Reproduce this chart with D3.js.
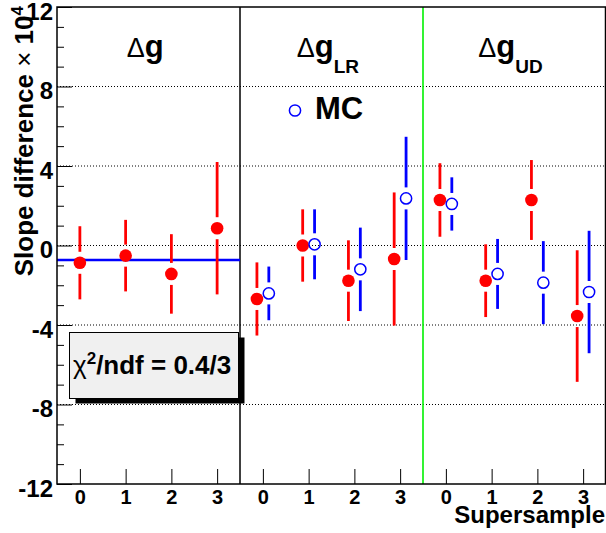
<!DOCTYPE html>
<html>
<head>
<meta charset="utf-8">
<script src="https://cdn.jsdelivr.net/npm/d3@7"></script>
<style>
  body { margin: 0; background: #fff; }
  svg { display: block; font-family: "Liberation Sans", Arial, Helvetica, sans-serif; }
</style>
</head>
<body>
<svg id="chart" width="606" height="533"></svg>
<script>
// ---- data ----
const panelNames = ["Δg", "Δg", "Δg"];
const panelSubs = ["", "LR", "UD"];
const tickLabels = ["0", "1", "2", "3"];
const bins = [0, 1, 2, 3, 4, 5, 6, 7, 8, 9, 10, 11];
const dataVals = [-0.87, -0.51, -1.43, 0.87, -2.69, 0.0, -1.77, -0.68, 2.29, -1.77, 2.29, -3.55];
const dataErrs = [1.84, 1.80, 2.00, 3.33, 1.84, 1.82, 2.03, 3.35, 1.85, 1.83, 2.01, 3.31];
const mcBins = [4, 5, 6, 7, 8, 9, 10, 11];
const mcVals = [-2.41, 0.06, -1.20, 2.37, 2.09, -1.43, -1.87, -2.34];
const mcErrs = [1.35, 1.76, 2.10, 3.10, 1.34, 1.76, 2.09, 3.08];
const fitValue = -0.73;
const fitRange = [-0.5, 3.5];
const chi2Value = "0.4", ndfValue = "3";
const yMajor = [-12, -8, -4, 0, 4, 8, 12];
const yMinor = d3.range(-12, 13, 1).filter(v => v % 4 !== 0);
const yGrid = [-8, -4, 0, 4, 8];
const separators = [3.5, 7.5];

// ---- layout ----
const svg = d3.select("#chart");
const L = 57, R = 605.5, T = 7, B = 484;
const x = d3.scaleLinear().domain([-0.5, 11.5]).range([L, 606]);
const y = d3.scaleLinear().domain([-12, 12]).range([B, T]);
const RED = "#ff0000", BLUE = "#0000ff";

// grid
svg.append("g").selectAll("line").data(yGrid).join("line")
  .attr("x1", L).attr("x2", R).attr("y1", d => y(d)).attr("y2", d => y(d))
  .attr("stroke", "#000").attr("stroke-width", 1).attr("stroke-dasharray", "1,2");

// separators
svg.append("line").attr("x1", x(separators[0])).attr("x2", x(separators[0]))
  .attr("y1", T).attr("y2", B).attr("stroke", "#000").attr("stroke-width", 1.5);
svg.append("line").attr("x1", x(separators[1])).attr("x2", x(separators[1]))
  .attr("y1", T).attr("y2", B).attr("stroke", "#00f000").attr("stroke-width", 1.6);

// fit line
svg.append("line").attr("x1", x(fitRange[0])).attr("x2", x(fitRange[1]))
  .attr("y1", y(fitValue)).attr("y2", y(fitValue))
  .attr("stroke", BLUE).attr("stroke-width", 2.5);

const GAP = 11;
function errBars(g, xs, vals, errs, color) {
  const segs = [];
  xs.forEach((xv, i) => {
    const yc = y(vals[i]), yt = y(vals[i] + errs[i]), yb = y(vals[i] - errs[i]);
    if (yc - GAP > yt) segs.push([xv, yt, yc - GAP]);
    if (yc + GAP < yb) segs.push([xv, yc + GAP, yb]);
  });
  g.selectAll(null).data(segs).join("line")
    .attr("x1", d => d[0]).attr("x2", d => d[0]).attr("y1", d => d[1]).attr("y2", d => d[2])
    .attr("stroke", color).attr("stroke-width", 2.8);
}

const dataX = bins.map(b => x(b + (b >= 4 ? -0.13 : 0)));
const mcX = mcBins.map(b => x(b + 0.13));
const gE = svg.append("g");
errBars(gE, dataX, dataVals, dataErrs, RED);
errBars(gE, mcX, mcVals, mcErrs, BLUE);

svg.append("g").selectAll("circle").data(bins).join("circle")
  .attr("cx", (d, i) => dataX[i]).attr("cy", (d, i) => y(dataVals[i]))
  .attr("r", 6.3).attr("fill", RED);
svg.append("g").selectAll("circle").data(mcBins).join("circle")
  .attr("cx", (d, i) => mcX[i]).attr("cy", (d, i) => y(mcVals[i]))
  .attr("r", 5.6).attr("fill", "none").attr("stroke", BLUE).attr("stroke-width", 1.5);

// chi2 box
svg.append("rect").attr("x", 75.5).attr("y", 337.5).attr("width", 169).attr("height", 66).attr("fill", "#000");
svg.append("rect").attr("x", 69.5).attr("y", 332.5).attr("width", 169).attr("height", 66)
  .attr("fill", "#f0f0f0").attr("stroke", "#000").attr("stroke-width", 1);
const chi = svg.append("text").attr("x", 73).attr("y", 374).attr("font-size", 26).attr("font-weight", "bold");
chi.append("tspan").attr("font-weight", "normal").text("χ");
chi.append("tspan").attr("font-size", 17).attr("dy", -10).text("2");
chi.append("tspan").attr("dy", 10).text("/ndf = " + chi2Value + "/" + ndfValue);

// frame
svg.append("rect").attr("x", L).attr("y", T).attr("width", R - L).attr("height", B - T)
  .attr("fill", "none").attr("stroke", "#000").attr("stroke-width", 1.5);

// axes
const ax = svg.append("g").attr("transform", `translate(${L},0)`)
  .call(d3.axisLeft(y).tickValues(yMajor).tickSize(-15).tickPadding(4).tickFormat(d3.format("d")));
ax.select(".domain").remove();
ax.selectAll("text").attr("font-size", 24).attr("font-weight", "bold")
  .attr("font-family", "Liberation Sans, Arial, sans-serif").attr("dy", "0.5em").text(d => d);
ax.selectAll("line").attr("stroke-width", 1);
const axm = svg.append("g").attr("transform", `translate(${L},0)`)
  .call(d3.axisLeft(y).tickValues(yMinor).tickSize(-7).tickFormat(""));
axm.select(".domain").remove();

const bx = svg.append("g").attr("transform", `translate(0,${B})`)
  .call(d3.axisBottom(x).tickValues(bins).tickSize(-15).tickPadding(6).tickFormat(d => tickLabels[d % 4]));
bx.select(".domain").remove();
bx.selectAll("text").attr("font-size", 20).attr("font-weight", "bold")
  .attr("font-family", "Liberation Sans, Arial, sans-serif");

// axis titles
const yt = svg.append("text").attr("transform", "rotate(-90)").attr("x", -6).attr("y", 33)
  .attr("text-anchor", "end").attr("font-size", 26).attr("font-weight", "bold");
yt.append("tspan").text("Slope difference ");
yt.append("tspan").attr("font-weight", "normal").text("×");
yt.append("tspan").text(" 10");
yt.append("tspan").attr("font-size", 17).attr("dy", -10).text("4");

svg.append("text").attr("x", 605).attr("y", 523).attr("text-anchor", "end")
  .attr("font-size", 24).attr("font-weight", "bold").text("Supersample");

// panel labels
const panelX = [126.7, 296.7, 478.3];
panelNames.forEach((p, i) => {
  const t = svg.append("text").attr("x", panelX[i]).attr("y", 57)
    .attr("font-size", 31).attr("font-weight", "bold");
  t.append("tspan").attr("font-weight", "normal").attr("font-size", 27).text(p.slice(0, 1));
  t.append("tspan").text(p.slice(1));
  if (panelSubs[i]) t.append("tspan").attr("font-size", 19).attr("dy", 16).text(panelSubs[i]);
});

// legend
svg.append("circle").attr("cx", 295).attr("cy", 110.5).attr("r", 5.6)
  .attr("fill", "none").attr("stroke", BLUE).attr("stroke-width", 1.5);
svg.append("text").attr("x", 315).attr("y", 119.3).attr("font-size", 31).attr("font-weight", "bold").text("MC");
</script>
</body>
</html>
